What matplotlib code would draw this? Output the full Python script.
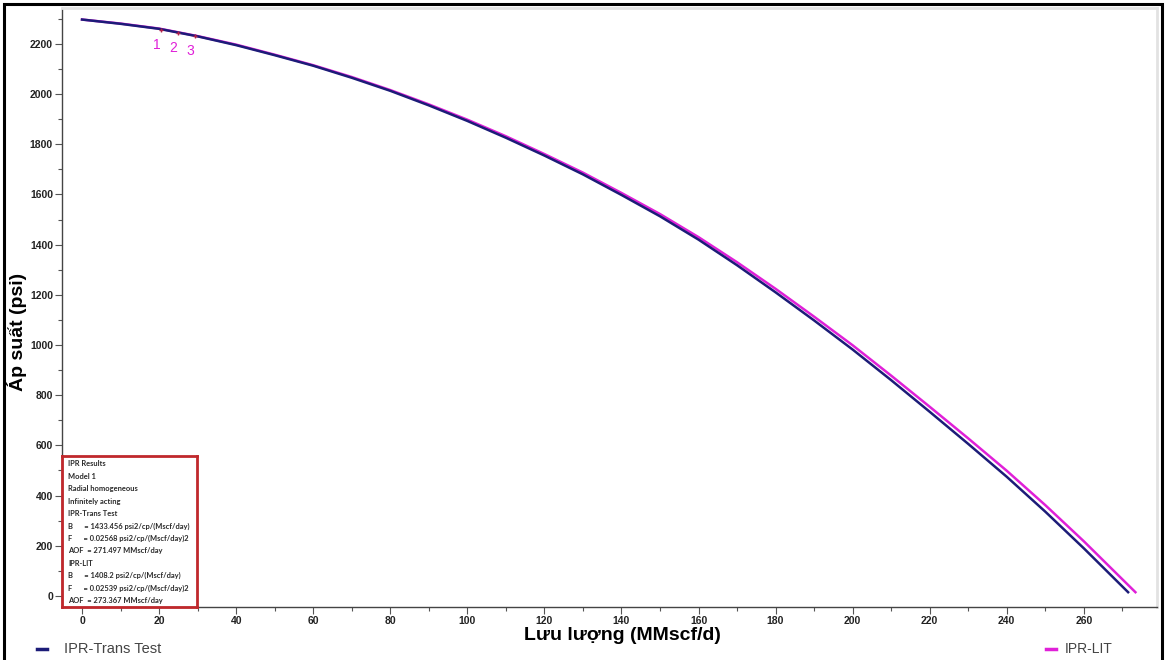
import matplotlib
matplotlib.use("Agg")
import matplotlib.pyplot as plt
from matplotlib.patches import Rectangle
from matplotlib.ticker import MultipleLocator

# flow rate (MMscf/d) and pressure (psi)
q_trans = [0, 10, 20, 30, 40, 50, 60, 70, 80, 90, 100, 110, 120, 130, 140,
           150, 160, 170, 180, 190, 200, 210, 220, 230, 240, 250, 260, 271.5]
p_trans = [2297, 2280, 2260, 2230, 2195, 2155, 2113, 2065, 2013, 1955, 1893,
           1826, 1755, 1680, 1598, 1513, 1420, 1318, 1210, 1098, 982, 860,
           734, 606, 475, 336, 190, 15]

q_lit = [0, 10, 20, 30, 40, 50, 60, 70, 80, 90, 100, 110, 120, 130, 140,
         150, 160, 170, 180, 190, 200, 210, 220, 230, 240, 250, 260, 273.4]
p_lit = [2297, 2281, 2261, 2231, 2197, 2157, 2115, 2068, 2016, 1959, 1898,
         1832, 1761, 1687, 1606, 1522, 1430, 1330, 1224, 1113, 999, 878,
         754, 628, 499, 362, 218, 15]

# test points
test_q = [20.5, 24.8, 29.3]
test_p = [2257, 2245, 2233]
test_labels = ["1", "2", "3"]

info_lines = [
    "IPR Results",
    "Model 1",
    "Radial homogeneous",
    "Infinitely acting",
    "IPR-Trans Test",
    "B      = 1433.456 psi2/cp/(Mscf/day)",
    "F      = 0.02568 psi2/cp/(Mscf/day)2",
    "AOF  = 271.497 MMscf/day",
    "IPR-LIT",
    "B      = 1408.2 psi2/cp/(Mscf/day)",
    "F      = 0.02539 psi2/cp/(Mscf/day)2",
    "AOF  = 273.367 MMscf/day",
]

plt.rcParams['font.family'] = ['Liberation Sans', 'DejaVu Sans']

navy = "#1c1c78"
magenta = "#e020d8"

fig = plt.figure(figsize=(11.66, 6.6), dpi=100)
ax = fig.add_axes([62 / 1166, 1 - 607 / 660, 1095 / 1166, 599 / 660])

ax.plot(q_lit, p_lit, color=magenta, lw=1.8, zorder=2)
ax.plot(q_trans, p_trans, color=navy, lw=1.8, zorder=3)
ax.scatter(test_q, test_p, marker="+", s=12, color="#b0204a", lw=1, zorder=4)
for q, p, lab in zip(test_q, test_p, test_labels):
    ax.annotate(lab, (q, p), xytext=(-3, -14), textcoords="offset points",
                color=magenta, fontsize=10, ha="center")

ax.set_xlim(-5.2, 279)
ax.set_ylim(-44, 2343)
ax.xaxis.set_major_locator(MultipleLocator(20))
ax.xaxis.set_minor_locator(MultipleLocator(10))
ax.yaxis.set_major_locator(MultipleLocator(200))
ax.yaxis.set_minor_locator(MultipleLocator(100))
ax.tick_params(which="major", length=5, width=0.8, color="#555555",
               labelsize=7.5, pad=1.5)
ax.tick_params(which="minor", length=3, width=0.8, color="#555555")
for lab in ax.get_xticklabels() + ax.get_yticklabels():
    lab.set_fontweight("bold")
    lab.set_color("#222222")

for side in ["left", "bottom"]:
    ax.spines[side].set_color("#444444")
    ax.spines[side].set_linewidth(1.0)
for side in ["top", "right"]:
    ax.spines[side].set_color("#e2e2e2")
    ax.spines[side].set_linewidth(2)

ax.set_xlabel("Lưu lượng (MMscf/d)", fontsize=14, fontweight="bold")
ax.set_ylabel("Áp suất (psi)", fontsize=14, fontweight="bold")
ax.xaxis.set_label_coords(0.512, -0.033)
ax.yaxis.set_label_coords(-0.032, 0.46)

# results box
box_ax = fig.add_axes([62 / 1166, 1 - 607 / 660, 135 / 1166, 151 / 660])
box_ax.set_xlim(0, 1)
box_ax.set_ylim(0, 1)
box_ax.set_xticks([])
box_ax.set_yticks([])
for s in box_ax.spines.values():
    s.set_color("#c0282c")
    s.set_linewidth(2)
box_ax.patch.set_alpha(0)
for i, line in enumerate(info_lines):
    box_ax.text(0.045, 1 - (8 + i * 12.4) / 151, line, fontsize=5.4,
                fontweight="bold", family=["Lato", "DejaVu Sans"],
                color="#2a2a2a", va="center", ha="left")

# legend along the bottom
fig.lines.append(plt.Line2D([37 / 1166, 47 / 1166], [1 - 649 / 660] * 2,
                            transform=fig.transFigure, color=navy, lw=2.5))
fig.text(64 / 1166, 1 - 649 / 660, "IPR-Trans Test", fontsize=10.5,
         color="#444444", va="center")
fig.lines.append(plt.Line2D([1046 / 1166, 1056 / 1166], [1 - 649 / 660] * 2,
                            transform=fig.transFigure, color=magenta, lw=2.5))
fig.text(1065 / 1166, 1 - 649 / 660, "IPR-LIT", fontsize=10,
         color="#444444", va="center")

# outer frame of the screenshot
fig.patches.append(Rectangle((4 / 1166, -0.05), 1158 / 1166, 1.05 - 4 / 660,
                             transform=fig.transFigure, fill=False,
                             edgecolor="black", lw=2.2))

fig.savefig("out.png", dpi=100)
